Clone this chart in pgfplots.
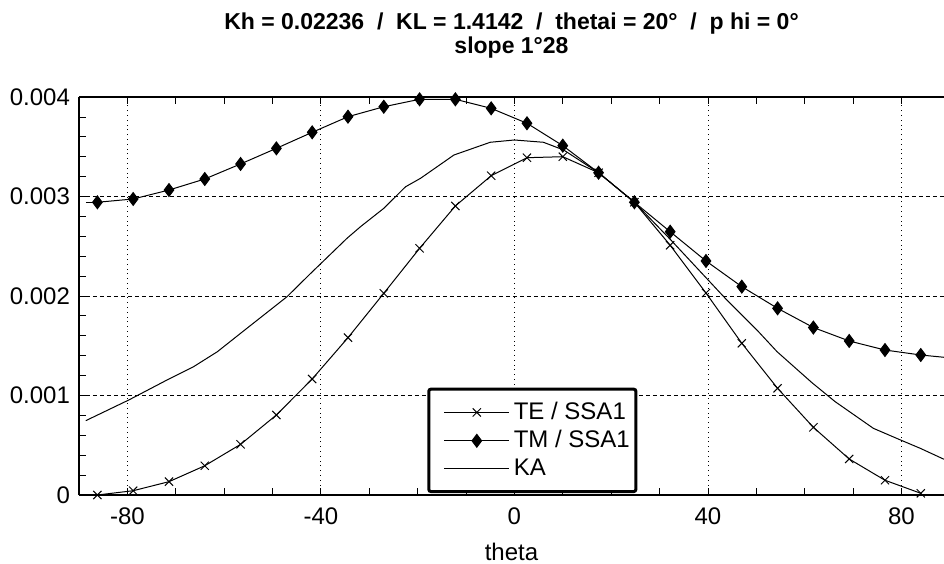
\documentclass[border=0pt]{standalone}
\usepackage{fontspec}
\setmainfont{Liberation Sans}
\usepackage{pgfplots}
\pgfplotsset{compat=1.18}

\begin{document}
\begin{tikzpicture}
\begin{axis}[
    name=ax,
    scale only axis,
    width=432.5pt, height=199pt,
    xmin=-90, xmax=88.8,
    ymin=0, ymax=0.004,
    axis y line*=left,
    axis x line*=box,
    axis line style={line width=0.7pt},
    tick align=inside,
    major tick length=3.5pt, minor tick length=3.5pt,
    tick style={black, line width=0.4pt},
    xtick={-80,-40,0,40,80},
    xticklabels={-80,-40,0,40,80},
    minor x tick num=3,
    ytick={0,0.001,0.002,0.003,0.004},
    yticklabels={0,0.001,0.002,0.003,0.004},
    minor y tick num=4,
    scaled y ticks=false,
    ticklabel style={font=\fontsize{12}{14}\selectfont},
    xticklabel style={yshift=-3pt},
    yticklabel style={xshift=-1pt},
    xlabel={theta},
    xlabel style={font=\fontsize{12}{14}\selectfont, yshift=-2pt},
    grid=major,
    x grid style={black, line width=0.4pt, dotted},
    y grid style={black, line width=0.4pt, dash pattern=on 2pt off 1.5pt},
    title={Kh = 0.02236 \ / \ KL = 1.4142 \ / \ thetai = 20° \ / \ p hi = 0°\\slope 1°28},
    title style={align=center, font=\bfseries\fontsize{11.5}{10}\selectfont, yshift=10pt},
    legend style={at={(axis cs:-18,0.00002)}, anchor=south west,
        draw=black, line width=1.5pt, rounded corners=1pt,
        font=\fontsize{12}{15}\selectfont,
        inner xsep=1pt, inner ysep=4.5pt, row sep=0pt,
        cells={anchor=west}, fill=white},
    legend image code/.code={\path (0pt,0pt); \draw[mark repeat=2,mark phase=2,#1] plot coordinates {(6.5pt,0pt) (22.75pt,0pt) (39pt,0pt)};},
    legend image post style={line width=0.5pt},
    cycle list={{black}},
    every axis plot/.append style={black, line width=0.5pt},
]
% TE / SSA1
\addplot[mark=x, mark size=2.9pt, mark options={line width=0.5pt}] coordinates {
(-86.2,0.0000) (-78.8,0.000043) (-71.4,0.000134) (-64.0,0.000294)
(-56.6,0.000509) (-49.2,0.000804) (-41.8,0.001166) (-34.4,0.001581)
(-27.0,0.002027) (-19.6,0.002479) (-12.2,0.002905) (-4.8,0.003209)
(2.6,0.003390) (10.0,0.003400) (17.4,0.003239) (24.8,0.002942)
(32.2,0.002510) (39.6,0.002030) (47.0,0.001525) (54.4,0.001072)
(61.8,0.000680) (69.2,0.000362) (76.6,0.000148) (84.0,0.000017)
};
\addlegendentry{TE / SSA1}
% TM / SSA1
\addplot[mark=diamond*, mark size=3.2pt] coordinates {
(-86.2,0.002942) (-78.8,0.002975) (-71.4,0.003065) (-64.0,0.003176)
(-56.6,0.003327) (-49.2,0.003484) (-41.8,0.003645) (-34.4,0.003802)
(-27.0,0.003902) (-19.6,0.003977) (-12.2,0.003977) (-4.8,0.003886)
(2.6,0.003736) (10.0,0.003511) (17.4,0.003239) (24.8,0.002942)
(32.2,0.002646) (39.6,0.002352) (47.0,0.002094) (54.4,0.001876)
(61.8,0.001683) (69.2,0.001548) (76.6,0.001457) (84.0,0.001407)
};
\addlegendentry{TM / SSA1}
% KA
\addplot[mark=none] coordinates {
(-88.6,0.000747) (-79.7,0.000955) (-71.8,0.001156) (-66.3,0.001290)
(-61.4,0.001440) (-56.6,0.001625) (-51.8,0.001809) (-47.0,0.001993)
(-42.1,0.002228) (-34.6,0.002580) (-31.8,0.002697) (-27.0,0.002881)
(-22.5,0.003098) (-19.4,0.003183) (-12.5,0.003417) (-5.0,0.003545)
(0.0,0.003568) (6.0,0.003545) (10.2,0.003467) (17.4,0.003239)
(24.8,0.002942) (32.2,0.002570) (43.9,0.001960) (50.1,0.001660)
(54.3,0.001440) (61.5,0.001129) (66.3,0.000938) (74.2,0.000670)
(79.8,0.000553) (83.9,0.000469) (88.8,0.000359)
};
\addlegendentry{KA}
% line ends without markers
\addplot[forget plot, mark=none] coordinates {(-88.6,0.002942) (-86.2,0.002942)};
\addplot[forget plot, mark=none] coordinates {(84.0,0.001407) (88.8,0.001384)};
\end{axis}
\pgfresetboundingbox
\path[use as bounding box] ([shift={(-39.5pt,-34.5pt)}]ax.south west) rectangle ([shift={(0pt,48.5pt)}]ax.north east);
\end{tikzpicture}
\end{document}
